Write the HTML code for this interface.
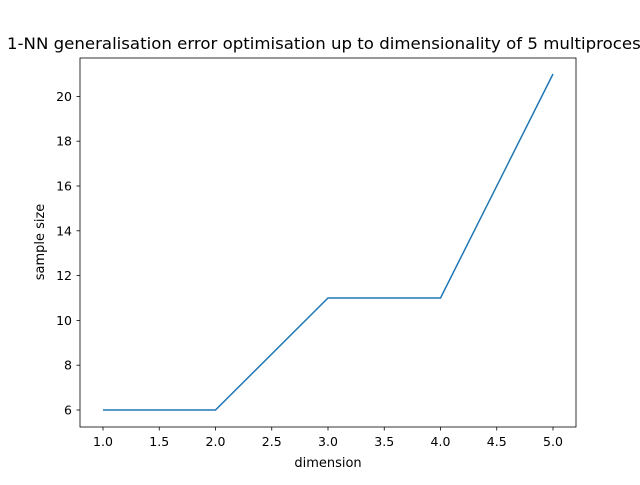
<!DOCTYPE html>
<html><head><meta charset="utf-8"><style>
body{margin:0;background:#fff;overflow:hidden}
svg{font-family:"DejaVu Sans","Liberation Sans",sans-serif}
</style></head><body>
<svg id="c" width="640" height="480">
<text x="7" y="49" font-size="16" textLength="668" lengthAdjust="spacingAndGlyphs">1-NN generalisation error optimisation up to dimensionality of 5 multiprocessing</text>
<rect x="80" y="58" width="496" height="369" fill="none" stroke="#000" stroke-width="0.8"/>
<g id="ax"></g>
<text x="328" y="467" font-size="13" text-anchor="middle">dimension</text>
<text transform="translate(44,242) rotate(-90)" font-size="13" text-anchor="middle">sample size</text>
</svg>
<script>
const dims=[1,2,3,4,5];
const sizes=[6,6,11,11,21];
const xTicks=["1.0","1.5","2.0","2.5","3.0","3.5","4.0","4.5","5.0"];
const yTicks=[6,8,10,12,14,16,18,20];
const X=v=>103+(v-1)*112.5;
const Y=v=>410-(v-6)*22.4;
const ns="http://www.w3.org/2000/svg",g=document.getElementById('ax');
function mk(t,a){const e=document.createElementNS(ns,t);for(const k in a)e.setAttribute(k,a[k]);g.appendChild(e);return e;}
xTicks.forEach(s=>{const x=X(parseFloat(s));
const l=mk('line',{x1:x,x2:x,y1:427,y2:430.5,stroke:'#000','stroke-width':0.8});


const t=mk('text',{x:x,y:446,'font-size':12.5,'text-anchor':'middle'});t.textContent=s;

});
yTicks.forEach(v=>{const y=Y(v);
const l=mk('line',{x1:76.5,x2:80,y1:y,y2:y,stroke:'#000','stroke-width':0.8});


const t=mk('text',{x:72,y:y+4.5,'font-size':12.5,'text-anchor':'end'});t.textContent=v;

});
const p=mk('polyline',{points:dims.map((d,i)=>X(d)+','+Y(sizes[i])).join(' '),fill:'none',stroke:'#1f77b4','stroke-width':1.5});


</script>
</body></html>
